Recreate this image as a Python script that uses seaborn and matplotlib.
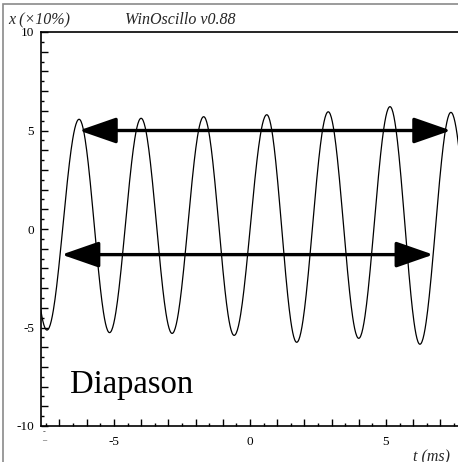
import numpy as np
import pandas as pd
import matplotlib
matplotlib.use("Agg")
import matplotlib.pyplot as plt
import seaborn as sns
from matplotlib.patches import FancyArrowPatch, Rectangle
from matplotlib.ticker import FixedLocator, FuncFormatter

# ---- data (extrema of the tuning-fork signal) ----
ext_t = [-8.60, -7.46, -6.28, -5.16, -4.00, -2.86, -1.70, -0.58, 0.62, 1.72,
         2.88, 4.00, 5.15, 6.25, 7.39, 8.53]           # ms
ext_v = [5.50, -5.13, 5.57, -5.26, 5.62, -5.30, 5.70, -5.40, 5.80, -5.75,
         5.95, -5.55, 6.21, -5.85, 5.92, -5.90]       # x10 %
arrow_top = {"t": [-6.28, 7.39], "v": [5.0, 5.0]}
arrow_bot = {"t": [-6.92, 6.74], "v": [-1.3, -1.3]}
x_labels = [-5, 0, 5]
y_labels = [-10, -5, 0, 5, 10]

# smooth half-cosine segments between successive extrema
tt, vv = [], []
for i in range(len(ext_t) - 1):
    s = np.linspace(0, 1, 60, endpoint=False)
    tt.append(ext_t[i] + s * (ext_t[i + 1] - ext_t[i]))
    vv.append(ext_v[i] + (ext_v[i + 1] - ext_v[i]) * (1 - np.cos(np.pi * s)) / 2)
df = pd.DataFrame({"t": np.concatenate(tt), "x": np.concatenate(vv)})

sns.set_theme(style="white")
plt.rcParams["font.family"] = ["Liberation Serif", "DejaVu Serif"]

W, H = 458, 462
fig = plt.figure(figsize=(W / 100, H / 100), dpi=100)
fig.patch.set_facecolor("white")
# outer gray frame
fig.add_artist(Rectangle((3 / W, -0.1), 2, (H - 4) / H + 0.1, transform=fig.transFigure,
                         fill=False, edgecolor="#8a8a8a", lw=1.2))

ax = fig.add_axes([41 / W, (H - 426) / H, (W - 41) / W, (426 - 32) / H])
sns.lineplot(data=df, x="t", y="x", ax=ax, color="black", lw=0.9, sort=False)
ax.set_xlim(-7.68, 7.65)
ax.set_ylim(-10, 10)
ax.set_xlabel("")
ax.set_ylabel("")
for s in ["left", "bottom", "top"]:
    ax.spines[s].set_color("black")
    ax.spines[s].set_linewidth(1.2)
ax.spines["right"].set_visible(False)

ax.xaxis.set_major_locator(FixedLocator(np.arange(-7, 8, 1)))
ax.xaxis.set_minor_locator(FixedLocator(np.arange(-7.5, 8, 1)))
ax.xaxis.set_major_formatter(FuncFormatter(lambda v, p: f"{int(round(v))}" if int(round(v)) in x_labels else ""))
ax.yaxis.set_major_locator(FixedLocator(np.arange(-10, 11, 1)))
ax.yaxis.set_minor_locator(FixedLocator(np.arange(-9.5, 10, 1)))
ax.yaxis.set_major_formatter(FuncFormatter(lambda v, p: f"{int(round(v))}" if int(round(v)) in y_labels else ""))
ax.tick_params(axis="both", which="major", direction="in", length=5, width=1, color="black",
               labelsize=9.5, labelcolor="black")
ax.tick_params(axis="both", which="minor", direction="in", length=2.5, width=1, color="black")
ax.tick_params(axis="x", which="major", pad=7)
ax.tick_params(axis="y", which="major", pad=5)
ax.tick_params(bottom=True, left=True, top=False, right=False)
ax.tick_params(axis="both", which="minor", bottom=True, left=True)

for arr in (arrow_top, arrow_bot):
    p = FancyArrowPatch((arr["t"][0], arr["v"][0]), (arr["t"][1], arr["v"][1]),
                        arrowstyle="<|-|>,head_length=23,head_width=8", mutation_scale=1,
                        lw=2.4, color="black", shrinkA=0, shrinkB=0, zorder=5)
    ax.add_patch(p)

ax.text(-6.6, -8.3, "Diapason", fontsize=23.5, color="black", va="baseline", ha="left")

fig.text(8 / W, 1 - 20 / H, "x (×10%)", fontsize=11.5, style="italic", va="center", ha="left")
fig.text(125 / W, 1 - 20 / H, "WinOscillo v0.88", fontsize=11.5, style="italic", va="center", ha="left")
fig.text(450 / W, 1 - 449 / H, "t (ms)", fontsize=11.5, style="italic", va="top", ha="right")
fig.text(44 / W, 1 - 435 / H, "-\n_", fontsize=6, va="center", ha="center", linespacing=0.6)

fig.savefig("out.png", dpi=100, facecolor="white")
